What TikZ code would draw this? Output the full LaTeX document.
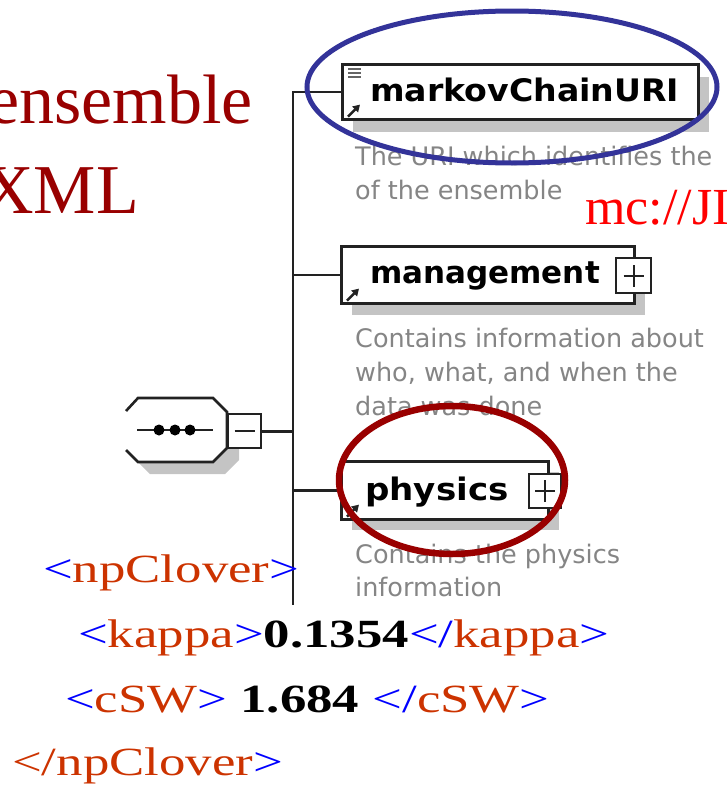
\documentclass[tikz,border=0pt]{standalone}
\usepackage{fontspec}
\usepackage{graphicx}
\setmainfont{Liberation Serif}
\newfontfamily\dvs{DejaVu Sans}
\usetikzlibrary{arrows.meta}
\definecolor{darkred}{HTML}{990000}
\definecolor{ellblue}{HTML}{333399}
\definecolor{tagred}{HTML}{CC3300}
\definecolor{tagblue}{HTML}{0000FF}
\definecolor{descgray}{HTML}{858585}
\definecolor{shadowgray}{HTML}{C4C4C4}
\definecolor{linegray}{HTML}{222222}
\newcommand{\tb}[1]{\textcolor{tagblue}{#1}}
\newcommand{\tr}[1]{\textcolor{tagred}{#1}}
\tikzset{
 elbox/.style={draw=linegray, line width=2.6pt, fill=white, inner sep=0pt, anchor=north west},
 shadowbox/.style={fill=shadowgray, draw=none, inner sep=0pt, anchor=north west},
 pmbox/.style={draw=linegray, line width=2.4pt, fill=white, inner sep=0pt, anchor=north west, minimum width=33pt, minimum height=34pt},
 elname/.style={font=\dvs\bfseries\fontsize{31}{36}\selectfont, anchor=base west, inner sep=0pt},
 desc/.style={font=\dvs\fontsize{25.5}{34}\selectfont, text=descgray, anchor=base west, inner sep=0pt},
 conn/.style={draw=linegray, line width=2.6pt},
 xmlline/.style={font=\fontsize{40}{48}\selectfont, anchor=base west, inner sep=0pt},
 bigtext/.style={font=\fontsize{70}{84}\selectfont, text=darkred, inner sep=0pt, anchor=base east},
 refarrow/.style={line width=2.6pt, linegray, -{Triangle[length=7pt,width=8pt]}},
}
\begin{document}
\begin{tikzpicture}[x=1pt,y=-1pt]
\useasboundingbox (0,0) rectangle (727,787);
\clip (0,0) rectangle (727,787);
% title text
\node[bigtext] (t1) at (253,123) {ensemble};
\node[bigtext] (t2) at (139,213) {XML};
\node[font=\fontsize{52}{60}\selectfont, text=red, anchor=base west, inner sep=0pt] (mc) at (585,224) {mc://JI};
% shadows
\node[shadowbox, minimum width=356pt, minimum height=55pt] (mcsh) at (353,77) {};
\node[shadowbox, minimum width=293pt, minimum height=57pt] (mgsh) at (352,258) {};
\node[shadowbox, minimum width=207pt, minimum height=58pt] (phsh) at (352,472) {};
% octagon (sequence compositor)
\fill[shadowgray] (138,412) -- (150,412) -- (225,412) -- (239,426) -- (239,460) -- (225,474) -- (150,474) -- (138,462) -- cycle;
\draw[linegray, line width=2.6pt, fill=white] (126,411) -- (138,398) -- (213,398) -- (227,412) -- (227,448) -- (213,462) -- (138,462) -- (126,450);
\fill[white] (120,414) rectangle (125,448);
\coordinate (dl) at (137,430);
\coordinate (dr) at (213,430);
\draw[linegray, line width=2.6pt] (dl) -- (dr);
\foreach \dx in {159,175,190} \fill[black] (\dx,430) circle (5.5pt);
\node[pmbox] (minus) at (227,413) {};
\draw[linegray, line width=2.4pt] ([xshift=-10pt]minus.center) -- ([xshift=10pt]minus.center);
% element boxes
\node[elbox, minimum width=356pt, minimum height=55pt] (mcbox) at (341,63) {};
\node[elbox, minimum width=293pt, minimum height=57pt] (mgbox) at (340,245) {};
\node[elbox, minimum width=207pt, minimum height=58pt] (phbox) at (340,460) {};
\node[pmbox, minimum width=35pt, minimum height=35pt] (mgplus) at (615,257) {};
\node[pmbox, minimum width=32pt, minimum height=34pt] (phplus) at (528,473) {};
\foreach \p in {mgplus,phplus}{
 \draw[linegray, line width=2.4pt] ([xshift=-10pt]\p.center) -- ([xshift=10pt]\p.center);
 \draw[linegray, line width=2.4pt] ([yshift=-11pt]\p.center) -- ([yshift=11pt]\p.center);
}
% trunk and connectors
\coordinate (trunkbot) at (293,605);
\draw[conn] (mcbox.west) -| (trunkbot);
\draw[conn] (mgbox.west) -- (mgbox.west -| trunkbot);
\draw[conn] (phbox.west) -- (phbox.west -| trunkbot);
\draw[conn] (minus.east) -- (minus.east -| trunkbot);
% icons
\foreach \b in {mcbox,mgbox,phbox}
 \draw[refarrow] ([shift={(7pt,4pt)}]\b.south west) -- ([shift={(19pt,16pt)}]\b.south west);
\foreach \yy in {69,73,77} \draw[linegray!70, line width=2pt] (348,\yy) -- (361,\yy);
% names
\node[elname] (mcname) at (370,101) {\scalebox{1.07}[1]{markovChainURI}};
\node[elname] (mgname) at (370,283) {management};
\node[elname] (phname) at (365,500) {\scalebox{1.1}[1]{physics}};
% descriptions
\node[desc] (d1a) at (355,165) {The URI which identifies the};
\node[desc] (d1b) at (355,199) {of the ensemble};
\node[desc] (d2a) at (355,347) {Contains information about};
\node[desc] (d2b) at (355,381) {who, what, and when the};
\node[desc] (d2c) at (355,415) {data was done};
\node[desc] (d3a) at (355,563) {Contains the physics};
\node[desc] (d3b) at (355,596) {information};
% XML
\node[xmlline] (x1) at (43,582) {\scalebox{1.32}[1]{\tb{<}\tr{npClover}\tb{>}}};
\node[xmlline] (x2) at (78,647) {\scalebox{1.32}[1]{\tb{<}\tr{kappa}\tb{>}\textbf{0.1354}\tb{</}\tr{kappa}\tb{>}}};
\node[xmlline] (x3) at (65,712) {\scalebox{1.32}[1]{\tb{<}\tr{cSW}\tb{>} \textbf{1.684} \tb{</}\tr{cSW}\tb{>}}};
\node[xmlline] (x4) at (12,775) {\scalebox{1.32}[1]{\tr{</npClover}\tb{>}}};
% highlight ellipses
\draw[ellblue, line width=5pt] (512,87) ellipse [x radius=205pt, y radius=76pt];
\draw[darkred, line width=6.5pt] (452,480) ellipse [x radius=113pt, y radius=74pt];
\end{tikzpicture}
\end{document}
